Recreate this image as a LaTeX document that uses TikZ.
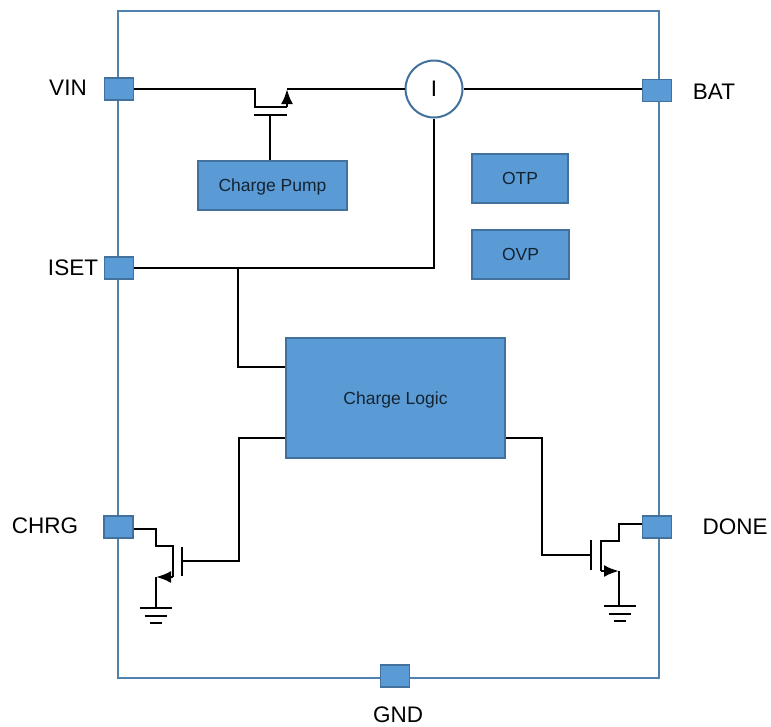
\documentclass[tikz,border=0pt]{standalone}
\usepackage{fontspec}
\setmainfont{Liberation Sans}
\usetikzlibrary{arrows.meta}
\definecolor{blockfill}{RGB}{91,155,213}
\definecolor{blockedge}{RGB}{65,113,156}
\definecolor{chipedge}{RGB}{79,129,173}
\definecolor{blocktext}{RGB}{20,35,50}
\tikzset{
  wire/.style={line width=2.5pt,black,line join=miter},
  fetarrow/.style={-{Latex[length=15pt,width=12pt]}},
  pin/.style={draw=blockedge,fill=blockfill,line width=1.5pt,minimum width=29pt,minimum height=22pt,inner sep=0pt},
  block/.style={draw=blockedge,fill=blockfill,line width=1.5pt,inner sep=0pt,text depth=0pt,text=blocktext,font=\fontsize{17.5}{20}\selectfont},
  pinlabel/.style={inner sep=0pt,font=\fontsize{22.5}{26}\selectfont},
}
\begin{document}
\begin{tikzpicture}[x=1pt,y=-1pt]
  \useasboundingbox (0,0) rectangle (771,726);
  % chip outline
  \node[draw=chipedge,line width=2.5pt,minimum width=541pt,minimum height=667pt,inner sep=0pt] (chip) at (388.5,344.5) {};
  % pins
  \node[pin] (vin) at (119,89) {};
  \node[pin] (bat) at (657,90.5) {};
  \node[pin] (iset) at (119,268) {};
  \node[pin] (chrg) at (118.5,527) {};
  \node[pin] (done) at (657,527) {};
  \node[pin] (gnd) at (395,676) {};
  \node[pinlabel] (vinlabel) at (68,88) {VIN};
  \node[pinlabel] (batlabel) at (714,92) {BAT};
  \node[pinlabel] (isetlabel) at (73,268) {ISET};
  \node[pinlabel] (chrglabel) at (45,526) {CHRG};
  \node[pinlabel] (donelabel) at (735,527) {DONE};
  \node[pinlabel] (gndlabel) at (398,715) {GND};
  % blocks
  \node[block,minimum width=149pt,minimum height=49pt] (pump) at (272.5,185.5) {Charge Pump};
  \node[block,minimum width=96pt,minimum height=49pt] (otp) at (520,178.5) {OTP};
  \node[block,minimum width=97pt,minimum height=49pt] (ovp) at (520.5,254.5) {OVP};
  \node[block,minimum width=219pt,minimum height=120pt] (logic) at (395.5,398) {Charge Logic};
  \node[draw=blockedge,fill=white,line width=2pt,circle,minimum size=57pt,inner sep=0pt,font=\fontsize{22.5}{26}\selectfont] (sense) at (434,89) {I};
  % top fet
  \coordinate (q1d) at (255,89);
  \coordinate (q1a) at (255,107);
  \coordinate (q1b) at (287,107);
  \coordinate (q1s) at (287,89);
  \coordinate (q1gl) at (254,115);
  \coordinate (q1gr) at (287,115);
  \coordinate (q1g) at (270,115);
  \draw[wire] (vin.east) -- (q1d) -- (q1a) -- (q1b);
  \draw[wire,fetarrow] (q1b) -- (q1s);
  \draw[wire] (q1s) -- (sense.west);
  \draw[wire] (q1gl) -- (q1gr);
  \draw[wire] (q1g) -- (q1g |- pump.north);
  \draw[wire] (sense.east) -- (bat.west |- sense.east);
  % iset
  \coordinate (isetjoin) at (238,268);
  \coordinate (isetcorner) at (sense.south |- iset.east);
  \draw[wire] (iset.east) -- (isetcorner) -- (sense.south);
  \draw[wire] (isetjoin) -- (238,367) -- (logic.west |- 238,367);
  % chrg fet
  \coordinate (q2top) at (156,529);
  \coordinate (q2a) at (156,546);
  \coordinate (q2d) at (173,546);
  \coordinate (q2s) at (173,577);
  \coordinate (q2b) at (156,577);
  \coordinate (q2gnd) at (156,608);
  \coordinate (q2gt) at (182,547);
  \coordinate (q2gb) at (182,576);
  \coordinate (q2g) at (182,561);
  \coordinate (q2w) at (239,561);
  \coordinate (q2in) at (239,438);
  \draw[wire] (chrg.east |- q2top) -- (q2top) -- (q2a) -- (q2d) -- (q2s);
  \draw[wire,fetarrow] (q2s) -- (q2b);
  \draw[wire] (q2b) -- (q2gnd);
  \draw[wire] (q2gt) -- (q2gb);
  \draw[wire] (q2g) -- (q2w) -- (q2in) -- (logic.west |- q2in);
  % done fet
  \coordinate (q3top) at (619,524);
  \coordinate (q3a) at (619,541);
  \coordinate (q3d) at (601,541);
  \coordinate (q3s) at (601,571);
  \coordinate (q3b) at (619,571);
  \coordinate (q3gnd) at (620,606);
  \coordinate (q3gt) at (591,540);
  \coordinate (q3gb) at (591,570);
  \coordinate (q3g) at (591,555);
  \coordinate (q3w) at (542,555);
  \coordinate (q3in) at (542,438);
  \draw[wire] (done.west |- q3top) -- (q3top) -- (q3a) -- (q3d) -- (q3s);
  \draw[wire,fetarrow] (q3s) -- (q3b);
  \draw[wire] (q3b) -- (q3b |- q3gnd);
  \draw[wire] (q3gt) -- (q3gb);
  \draw[wire] (q3g) -- (q3w) -- (q3in) -- (logic.east |- q3in);
  % grounds
  \foreach \name/\j in {q2gnd/156,q3gnd/620} {
    \draw[wire] (\j-16,0 |- \name) -- (\j+16,0 |- \name);
    \draw[wire] ([shift={(-11,8)}]\name) -- ([shift={(11,8)}]\name);
    \draw[wire] ([shift={(-6,15)}]\name) -- ([shift={(6,15)}]\name);
  }
\end{tikzpicture}
\end{document}
